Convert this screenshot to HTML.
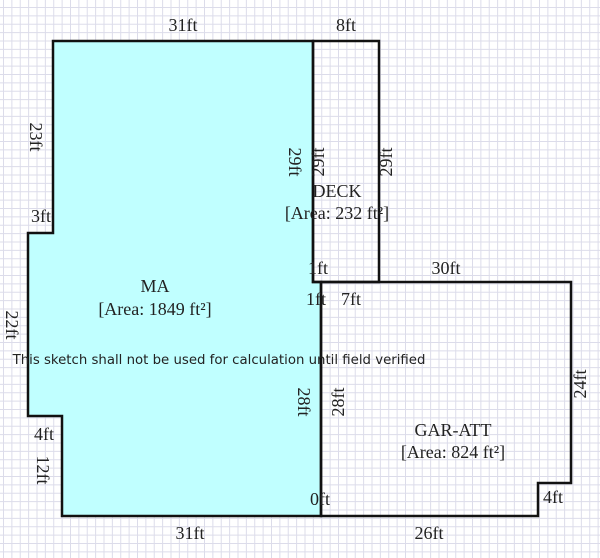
<!DOCTYPE html>
<html><head><style>
body{margin:0;width:600px;height:558px;overflow:hidden;background:#fff;
background-image:linear-gradient(to right,#dcdcea 1px,transparent 1px),linear-gradient(to bottom,#dcdcea 1px,transparent 1px);
background-size:8.39px 8.39px;background-position:3px 7px;}
svg{position:absolute;left:0;top:0}
text{font-family:"Liberation Serif",serif;font-size:18px;fill:#222}
</style></head><body>
<svg width="600" height="558">
<polygon points="53,41 313,41 313,282 321,282 321,516 62,516 62,416 28,416 28,233 53,233" fill="#c0ffff" stroke="#111" stroke-width="2.5"/>
<polygon points="313,41 379,41 379,282 313,282" fill="none" stroke="#111" stroke-width="2.5"/>
<polygon points="321,282 571,282 571,483 538,483 538,516 321,516" fill="none" stroke="#111" stroke-width="2.5"/>
<text x="183" y="31" text-anchor="middle">31ft</text>
<text x="346" y="31" text-anchor="middle">8ft</text>
<text x="446" y="274" text-anchor="middle">30ft</text>
<text x="190" y="539" text-anchor="middle">31ft</text>
<text x="429" y="539" text-anchor="middle">26ft</text>
<text x="41" y="222" text-anchor="middle">3ft</text>
<text x="44" y="440" text-anchor="middle">4ft</text>
<text x="318" y="274" text-anchor="middle">1ft</text>
<text x="316" y="305" text-anchor="middle">1ft</text>
<text x="351" y="305" text-anchor="middle">7ft</text>
<text x="320" y="505" text-anchor="middle">0ft</text>
<text x="553" y="503" text-anchor="middle" font-size="15">4ft</text>
<text transform="translate(30,137) rotate(90)" text-anchor="middle">23ft</text>
<text transform="translate(6,325) rotate(90)" text-anchor="middle">22ft</text>
<text transform="translate(37,470) rotate(90)" text-anchor="middle">12ft</text>
<text transform="translate(289,162) rotate(90)" text-anchor="middle">29ft</text>
<text transform="translate(324,162) rotate(-90)" text-anchor="middle">29ft</text>
<text transform="translate(392,162) rotate(-90)" text-anchor="middle">29ft</text>
<text transform="translate(298,402) rotate(90)" text-anchor="middle">28ft</text>
<text transform="translate(344,402) rotate(-90)" text-anchor="middle">28ft</text>
<text transform="translate(586,384) rotate(-90)" text-anchor="middle">24ft</text>
<text x="337" y="197" text-anchor="middle" font-size="19">DECK</text>
<text x="337" y="219" text-anchor="middle" font-size="19">[Area: 232 ft²]</text>
<text x="155" y="292" text-anchor="middle" font-size="19">MA</text>
<text x="155" y="315" text-anchor="middle" font-size="19">[Area: 1849 ft²]</text>
<text x="453" y="436" text-anchor="middle" font-size="19">GAR-ATT</text>
<text x="453" y="458" text-anchor="middle" font-size="19">[Area: 824 ft²]</text>
<text x="219" y="364" text-anchor="middle" style="font-family:'DejaVu Sans',sans-serif;font-size:13.3px">This sketch shall not be used for calculation until field verified</text>
</svg>
</body></html>
